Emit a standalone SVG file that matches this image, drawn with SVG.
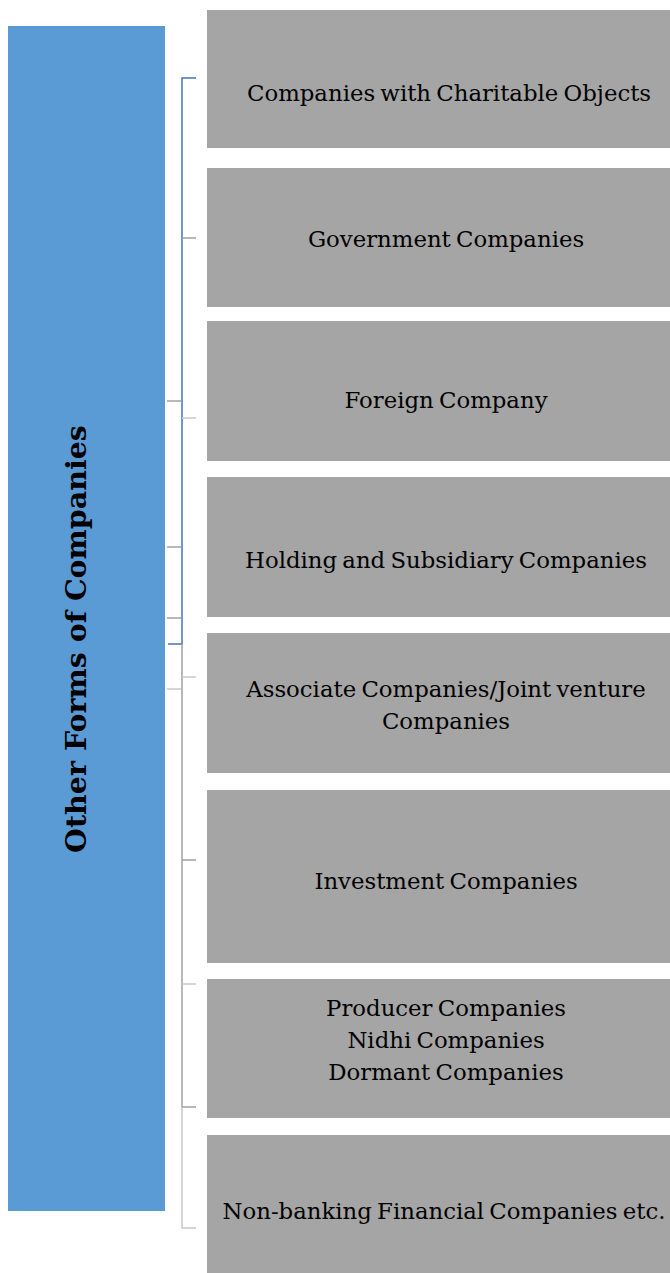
<svg xmlns="http://www.w3.org/2000/svg" width="670" height="1273" viewBox="0 0 670 1273">
<style>
.box{fill:#A5A5A5;}
.t{font-family:"DejaVu Serif","Liberation Serif",serif;font-size:22.8px;fill:#000;text-anchor:middle;word-spacing:-2px;}
.title{font-family:"DejaVu Serif","Liberation Serif",serif;font-size:28.5px;font-weight:bold;fill:#000;text-anchor:middle;}
.bl{stroke:#4472C4;stroke-width:1.5;fill:none;}
.gl{stroke:#A0A0A0;stroke-width:1.5;fill:none;}
.gl2{stroke:#C8C8C8;stroke-width:1.5;fill:none;}
</style>
<rect width="670" height="1273" fill="#fff"/>
<g id="root">
<rect x="8" y="26" width="157" height="1185" fill="#5B9BD5"/>
<text class="title" transform="translate(86,639) rotate(-90)">Other  Forms  of  Companies</text>
</g>
<g id="connectors">
<path class="bl" d="M196,78 H182 V644 H168"/>
<path class="gl" d="M182,238 H196"/>
<path class="gl" d="M167,401 H181"/>
<path class="gl2" d="M182,418 H196"/>
<path class="gl" d="M167,547 H181"/>
<path class="gl" d="M167,618 H181"/>
<path class="gl" d="M182,644 V1107"/>
<path class="gl2" d="M182,1107 V1228 H196"/>
<path class="gl2" d="M182,677 H196"/>
<path class="gl2" d="M167,689 H181"/>
<path class="gl" d="M182,860 H196"/>
<path class="gl2" d="M182,984 H196"/>
<path class="gl" d="M182,1107 H196"/>
</g>
<g id="n1"><rect class="box" x="207" y="10" width="463" height="138"/><text class="t" x="449" y="101">Companies with Charitable  Objects</text></g>
<g id="n2"><rect class="box" x="207" y="168" width="463" height="139"/><text class="t" x="446" y="247">Government Companies</text></g>
<g id="n3"><rect class="box" x="207" y="321" width="463" height="140"/><text class="t" x="446" y="408">Foreign Company</text></g>
<g id="n4"><rect class="box" x="207" y="477" width="463" height="140"/><text class="t" x="446" y="568">Holding and Subsidiary Companies</text></g>
<g id="n5"><rect class="box" x="207" y="633" width="463" height="140"/><text class="t" x="446" y="697">Associate  Companies/Joint venture</text><text class="t" x="446" y="729">Companies</text></g>
<g id="n6"><rect class="box" x="207" y="790" width="463" height="173"/><text class="t" x="446" y="889">Investment Companies</text></g>
<g id="n7"><rect class="box" x="207" y="979" width="463" height="139"/><text class="t" x="446" y="1016">Producer Companies</text><text class="t" x="446" y="1048">Nidhi Companies</text><text class="t" x="446" y="1080">Dormant Companies</text></g>
<g id="n8"><rect class="box" x="207" y="1135" width="463" height="138"/><text class="t" x="444" y="1219">Non-banking Financial Companies etc.</text></g>
</svg>
